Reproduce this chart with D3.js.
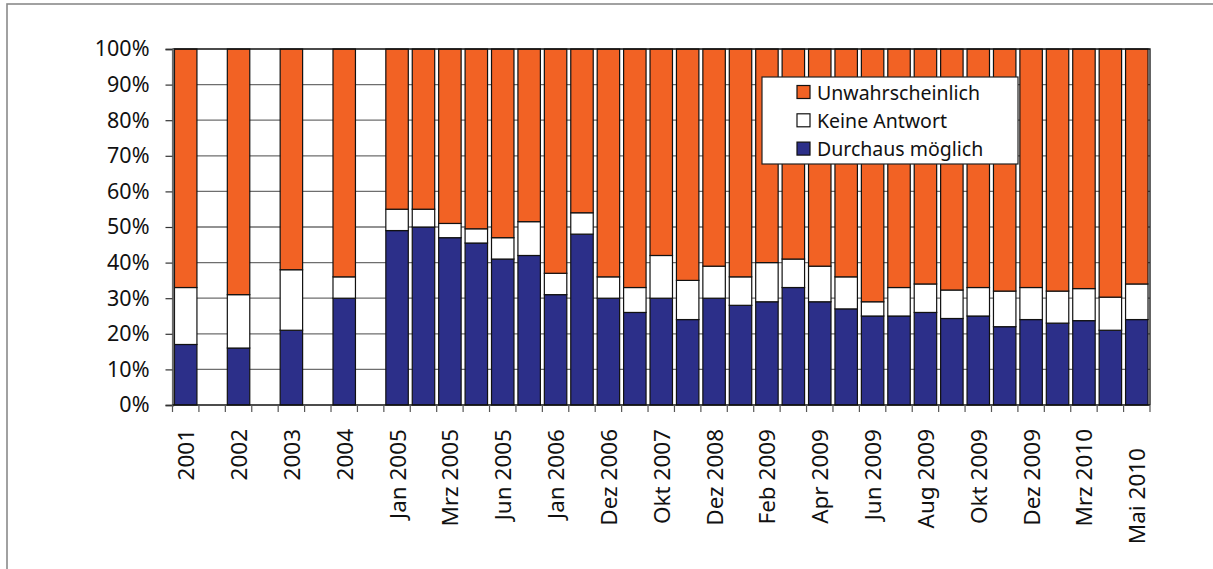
<!DOCTYPE html>
<html>
<head>
<meta charset="utf-8">
<script src="https://cdn.jsdelivr.net/npm/d3@7"></script>
<style>
  html, body { margin: 0; padding: 0; background: #fff; }
  svg { display: block; }
  text { font-family: "Noto Sans", "DejaVu Sans", sans-serif; fill: #111; }
</style>
</head>
<body>
<svg id="chart" width="1213" height="569"></svg>
<script>
// ---- data ----
const categories = [
  "2001", "", "2002", "", "2003", "", "2004", "",
  "Jan 2005", "", "Mrz 2005", "", "Jun 2005", "", "Jan 2006", "",
  "Dez 2006", "", "Okt 2007", "", "Dez 2008", "", "Feb 2009", "",
  "Apr 2009", "", "Jun 2009", "", "Aug 2009", "", "Okt 2009", "",
  "Dez 2009", "", "Mrz 2010", "", "Mai 2010"
];
const durchausMoeglich = [
  17, null, 16, null, 21, null, 30, null,
  49, 50, 47, 45.5, 41, 42, 31, 48,
  30, 26, 30, 24, 30, 28, 29, 33,
  29, 27, 25, 25, 26, 24.3, 25, 22,
  24, 23, 23.7, 21, 24
];
const keineAntwort = [
  16, null, 15, null, 17, null, 6, null,
  6, 5, 4, 4, 6, 9.5, 6, 6,
  6, 7, 12, 11, 9, 8, 11, 8,
  10, 9, 4, 8, 8, 8, 8, 10,
  9, 9, 9, 9.3, 10
];
const unwahrscheinlich = [
  67, null, 69, null, 62, null, 64, null,
  45, 45, 49, 50.5, 53, 48.5, 63, 46,
  64, 67, 58, 65, 61, 64, 60, 59,
  61, 64, 71, 67, 66, 67.7, 67, 68,
  67, 68, 67.3, 69.7, 66
];
const seriesNames = ["Durchaus möglich", "Keine Antwort", "Unwahrscheinlich"];
const seriesColors = ["#2C2F89", "#FFFFFF", "#F26224"];
const yTicks = [0, 10, 20, 30, 40, 50, 60, 70, 80, 90, 100];

// ---- layout ----
const svg = d3.select("#chart");
const W = 1213, H = 569;
const plot = { left: 172.5, right: 1150, top: 49, bottom: 405 };

// outer frame
svg.append("rect")
  .attr("x", 7).attr("y", 4)
  .attr("width", W + 20).attr("height", H + 20)
  .attr("fill", "#fff").attr("stroke", "#8a8a8a").attr("stroke-width", 1.6);

const idx = d3.range(categories.length);
const x = d3.scaleBand().domain(idx).range([plot.left, plot.right])
  .paddingInner(0.15).paddingOuter(0.075);
const y = d3.scaleLinear().domain([0, 100]).range([plot.bottom, plot.top]);

// gridlines
svg.append("g").selectAll("line").data(yTicks.filter(t => t > 0 && t < 100)).join("line")
  .attr("x1", plot.left).attr("x2", plot.right)
  .attr("y1", d => y(d)).attr("y2", d => y(d))
  .attr("stroke", "#6e6e6e").attr("stroke-width", 1.3);

// stacked data
const rows = idx.map(i => ({
  i,
  d: durchausMoeglich[i], k: keineAntwort[i], u: unwahrscheinlich[i]
})).filter(r => r.d !== null);
const stack = d3.stack().keys(["d", "k", "u"]);
const layers = stack(rows);

svg.append("g").selectAll("g").data(layers).join("g")
  .attr("fill", (L, j) => seriesColors[j])
  .selectAll("rect").data(L => L).join("rect")
  .attr("x", p => x(p.data.i))
  .attr("width", x.bandwidth())
  .attr("y", p => y(p[1]))
  .attr("height", p => y(p[0]) - y(p[1]))
  .attr("stroke", "#111").attr("stroke-width", 1.2);

// plot border (top / right black)
svg.append("path")
  .attr("d", `M${plot.left},${plot.top}H${plot.right}V${plot.bottom}`)
  .attr("fill", "none").attr("stroke", "#111").attr("stroke-width", 1.3);

// y axis
const yAxis = d3.axisLeft(y).tickValues(yTicks).tickFormat(d => d + "%").tickSize(7).tickPadding(16);
const gy = svg.append("g").attr("transform", `translate(${plot.left},0)`).call(yAxis);
gy.select(".domain").attr("stroke", "#6a6a6a").attr("stroke-width", 2.2);
gy.selectAll(".tick line").attr("stroke", "#333").attr("stroke-width", 1.2);
gy.selectAll(".tick text").attr("font-size", 21.5).attr("fill", "#111")
  .attr("font-family", "\"Noto Sans\", sans-serif").attr("x", -23);

// x axis baseline and ticks at slot boundaries
svg.append("line")
  .attr("x1", plot.left).attr("x2", plot.right)
  .attr("y1", plot.bottom).attr("y2", plot.bottom)
  .attr("stroke", "#111").attr("stroke-width", 1.3);
const step = x.step();
svg.append("g").selectAll("line").data(d3.range(categories.length + 1)).join("line")
  .attr("x1", k => plot.left + k * step).attr("x2", k => plot.left + k * step)
  .attr("y1", plot.bottom).attr("y2", plot.bottom + 7)
  .attr("stroke", "#555").attr("stroke-width", 1.2);

// x labels (rotated)
svg.append("g").selectAll("text").data(idx.filter(i => categories[i] !== "")).join("text")
  .attr("transform", i => {
    const cx = x(i) + x.bandwidth() / 2;
    const ty = (i === categories.length - 1) ? 448 : 429;
    return `translate(${cx},${ty}) rotate(-90)`;
  })
  .attr("text-anchor", "end")
  .attr("dominant-baseline", "central")
  .attr("font-size", 22.5)
  .text(i => categories[i]);

// legend
const lg = svg.append("g").attr("transform", "translate(762,77)");
lg.append("rect").attr("width", 256).attr("height", 87)
  .attr("fill", "#fff").attr("stroke", "#222").attr("stroke-width", 1.2);
const legendOrder = [2, 1, 0];
legendOrder.forEach((s, r) => {
  const cy = 15 + r * 28.3;
  lg.append("rect").attr("x", 35).attr("y", cy - 6.5).attr("width", 13).attr("height", 13)
    .attr("fill", seriesColors[s]).attr("stroke", "#111").attr("stroke-width", 1.2);
  lg.append("text").attr("x", 55).attr("y", cy).attr("dominant-baseline", "central")
    .attr("font-size", 19.5).text(seriesNames[s]);
});
</script>
</body>
</html>
